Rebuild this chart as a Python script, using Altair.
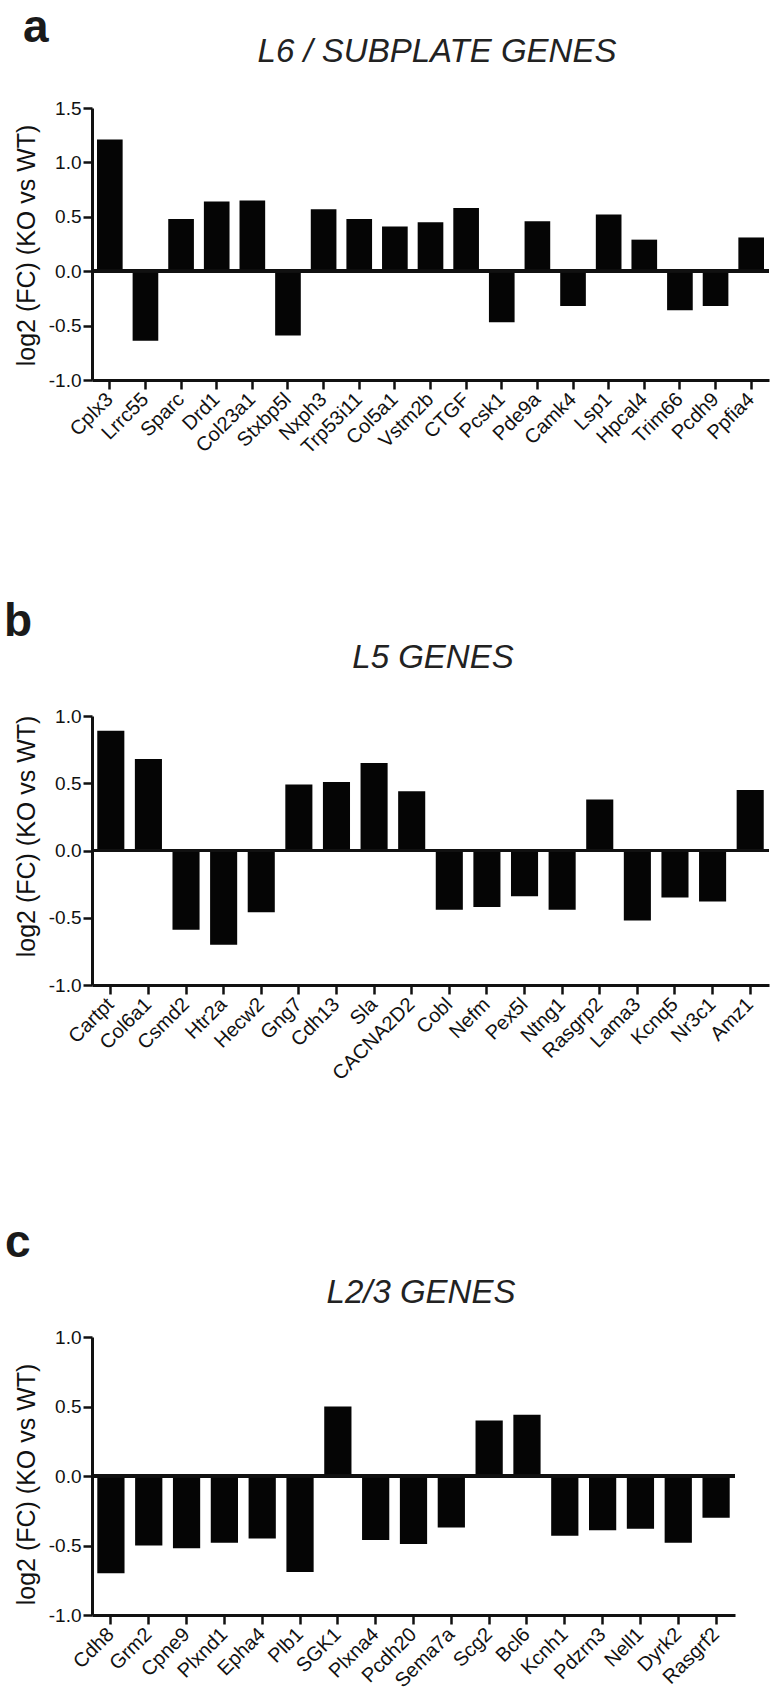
import altair as alt
import pandas as pd

# ---------------- data ----------------
genes_a = ["Cplx3", "Lrrc55", "Sparc", "Drd1", "Col23a1", "Stxbp5l", "Nxph3", "Trp53i11",
           "Col5a1", "Vstm2b", "CTGF", "Pcsk1", "Pde9a", "Camk4", "Lsp1", "Hpcal4",
           "Trim66", "Pcdh9", "Ppfia4"]
vals_a = [1.21, -0.64, 0.48, 0.64, 0.65, -0.59, 0.57, 0.48, 0.41, 0.45, 0.58, -0.47,
          0.46, -0.32, 0.52, 0.29, -0.36, -0.32, 0.31]

genes_b = ["Cartpt", "Col6a1", "Csmd2", "Htr2a", "Hecw2", "Gng7", "Cdh13", "Sla",
           "CACNA2D2", "Cobl", "Nefm", "Pex5l", "Ntng1", "Rasgrp2", "Lama3", "Kcnq5",
           "Nr3c1", "Amz1"]
vals_b = [0.89, 0.68, -0.59, -0.70, -0.46, 0.49, 0.51, 0.65, 0.44, -0.44, -0.42, -0.34,
          -0.44, 0.38, -0.52, -0.35, -0.38, 0.45]

genes_c = ["Cdh8", "Grm2", "Cpne9", "Plxnd1", "Epha4", "Plb1", "SGK1", "Plxna4", "Pcdh20",
           "Sema7a", "Scg2", "Bcl6", "Kcnh1", "Pdzrn3", "Nell1", "Dyrk2", "Rasgrf2"]
vals_c = [-0.70, -0.50, -0.52, -0.48, -0.45, -0.69, 0.50, -0.46, -0.49, -0.37, 0.40,
          0.44, -0.43, -0.39, -0.38, -0.48, -0.30]

panel_letters = ["a", "b", "c"]
panel_titles = ["L6 / SUBPLATE GENES", "L5 GENES", "L2/3 GENES"]
y_ticks_a = [-1.0, -0.5, 0.0, 0.5, 1.0, 1.5]
y_ticks_bc = [-1.0, -0.5, 0.0, 0.5, 1.0]
y_title = "log2 (FC) (KO vs WT)"

FONT = "Liberation Sans, Arial, Helvetica, sans-serif"
INK = "#111111"
NOVIEW = alt.ViewBackground(stroke="transparent", strokeWidth=0, fill="transparent")


def panel(genes, vals, letter, title, ticks, domain, width, height,
          letter_xy, title_xy, title_y_pos, anchor=False):
    df = pd.DataFrame({"gene": genes, "value": vals})
    x_enc = alt.X("gene:N", sort=genes,
                  scale=alt.Scale(paddingInner=0.28, paddingOuter=0.14),
                  axis=alt.Axis(title=None, labelAngle=315, labelAlign="right",
                                labelBaseline="middle", labelFontSize=20, labelFont=FONT,
                                labelColor=INK, labelPadding=7, labelOverlap=False,
                                labelLimit=300,
                                tickSize=9, tickWidth=2.5, tickColor=INK,
                                domainWidth=3, domainColor=INK))
    y_enc = alt.Y("value:Q", scale=alt.Scale(domain=domain, nice=False, zero=True),
                  axis=alt.Axis(values=ticks,
                                labelExpr="replace(format(datum.value, '.1f'), '\u2212', '-')",
                                title=y_title, titleFont=FONT, titleFontSize=25,
                                titleFontWeight="normal", titleColor=INK,
                                titleAngle=270, titleBaseline="alphabetic", titleAlign="center",
                                titleX=-58, titleY=title_y_pos,
                                labelFontSize=19, labelFont=FONT, labelColor=INK,
                                labelPadding=2, tickSize=9, tickWidth=2.5, tickColor=INK,
                                domainWidth=3, domainColor=INK, grid=False))
    bars = alt.Chart(df).mark_bar(color="#050505").encode(x=x_enc, y=y_enc)
    zero = alt.Chart(df).mark_rule(color=INK, strokeWidth=3).encode(y=alt.datum(0))
    let = alt.Chart(pd.DataFrame({"t": [letter]})).mark_text(
        font=FONT, fontSize=46, fontWeight="bold", align="left", baseline="alphabetic",
        color="#1a1a1a"
    ).encode(text="t:N", x=alt.value(letter_xy[0]), y=alt.value(letter_xy[1]))
    tit = alt.Chart(pd.DataFrame({"t": [title]})).mark_text(
        font=FONT, fontSize=33, fontStyle="italic", align="center", baseline="alphabetic",
        color="#222222"
    ).encode(text="t:N", x=alt.value(title_xy[0]), y=alt.value(title_xy[1]))
    layers = [bars, zero, let, tit]
    if anchor:
        anc = alt.Chart(pd.DataFrame({"t": [0]})).mark_rule(opacity=0, strokeWidth=1).encode(
            x=alt.value(-92), y=alt.value(-108), y2=alt.value(-100))
        layers.append(anc)
    return alt.layer(*layers).properties(width=width, height=height, view=NOVIEW)


def spacer(h):
    return alt.Chart(pd.DataFrame({"t": [""]})).mark_text(opacity=0, fontSize=1).encode(
        text="t:N", x=alt.value(0), y=alt.value(0)
    ).properties(width=1, height=h, view=NOVIEW)


pa = panel(genes_a, vals_a, panel_letters[0], panel_titles[0], y_ticks_a, [-1.0, 1.5],
           677, 272, (-69, -66), (345, -46), 137, anchor=True)
pb = panel(genes_b, vals_b, panel_letters[1], panel_titles[1], y_ticks_bc, [-1.0, 1.0],
           677, 269, (-88, -80), (341, -48), 120)
pc = panel(genes_c, vals_c, panel_letters[2], panel_titles[2], y_ticks_bc, [-1.0, 1.0],
           643, 278, (-87, -80), (329, -34), 147)

chart = alt.vconcat(pa, spacer(336), pb, spacer(352), pc, spacing=0, bounds="flush").properties(
    padding={"left": 0, "top": 0, "right": 0, "bottom": 0}
).configure_view(stroke="transparent", strokeWidth=0).configure(background="white")

chart.save("out.html", embed_options={"renderer": "svg", "actions": False})
